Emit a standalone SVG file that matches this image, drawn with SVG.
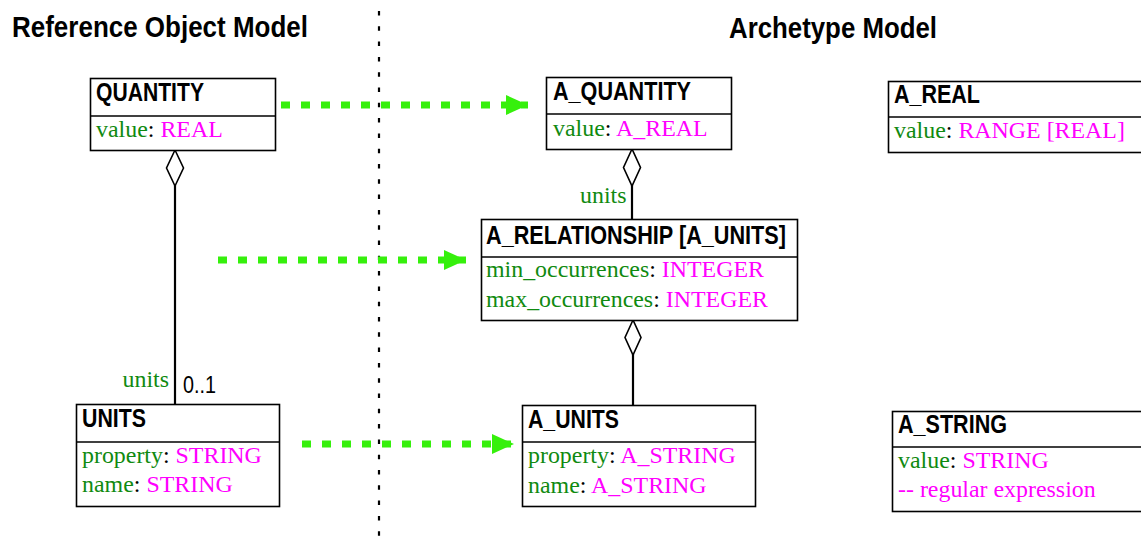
<svg xmlns="http://www.w3.org/2000/svg" width="1141" height="546" viewBox="0 0 1141 546">
  <style>
    .title { font-family: "Liberation Sans Narrow", "Liberation Sans", Arial, sans-serif; font-weight: bold; font-size: 29px; fill: #000; }
    .hdr { font-family: "Liberation Sans Narrow", "Liberation Sans", Arial, sans-serif; font-weight: bold; font-size: 25px; fill: #000; }
    .mult { font-family: "Liberation Sans Narrow", "Liberation Sans", Arial, sans-serif; font-size: 24px; fill: #000; }
    .attr { font-family: "Liberation Serif", "Times New Roman", serif; font-size: 23.9px; fill: #000; }
    .nm { fill: #108a10; }
    .ty { fill: #ff00ff; }
    .box { fill: #fff; stroke: #000; stroke-width: 1.6; }
    .sep { stroke: #000; stroke-width: 1.6; }
    .assoc { stroke: #000; stroke-width: 2.2; fill: none; }
    .diamond { fill: #fff; stroke: #000; stroke-width: 1.6; }
    .map { stroke: #36f00c; stroke-width: 7; stroke-dasharray: 9 11; fill: none; }
  </style>
  <defs>
    <marker id="head" viewBox="0 0 22 20" refX="22" refY="10" markerWidth="22" markerHeight="20" markerUnits="userSpaceOnUse" orient="auto">
      <path d="M0,0 L22,10 L0,20 Z" fill="#36f00c"/>
    </marker>
  </defs>

  <rect width="1141" height="546" fill="#fff"/>

  <!-- section titles -->
  <text class="title" x="12" y="37" textLength="296" lengthAdjust="spacingAndGlyphs">Reference Object Model</text>
  <text class="title" x="729" y="38" textLength="208" lengthAdjust="spacingAndGlyphs">Archetype Model</text>

  <!-- divider between the two models -->
  <line x1="379" y1="11" x2="379" y2="540" stroke="#000" stroke-width="2.2" stroke-dasharray="4.5 10.8"/>

  <!-- associations and mappings -->
  <g id="connectors">
    <line class="assoc" x1="175" y1="185" x2="175" y2="404"/>
    <polygon class="diamond" points="175,150 166.5,168 175,186 183.5,168"/>
    <text class="attr nm" x="169" y="387" text-anchor="end">units</text>
    <text class="mult" x="183" y="393" textLength="33" lengthAdjust="spacingAndGlyphs">0..1</text>

    <line class="assoc" x1="632" y1="185" x2="632" y2="219"/>
    <polygon class="diamond" points="632,149 623.5,167.5 632,186 640.5,167.5"/>
    <text class="attr nm" x="580" y="203">units</text>

    <line class="assoc" x1="633" y1="354" x2="633" y2="405"/>
    <polygon class="diamond" points="633,320 625,337.5 633,355 641,337.5"/>

    <line class="map" x1="281" y1="105" x2="528" y2="105" marker-end="url(#head)"/>
    <line class="map" x1="218" y1="260" x2="466" y2="260" marker-end="url(#head)"/>
    <line class="map" x1="302" y1="444" x2="514" y2="444" marker-end="url(#head)"/>
  </g>

  <g id="quantity">
    <rect class="box" x="90.5" y="78.5" width="185" height="72"/>
    <line class="sep" x1="90.5" y1="116" x2="275.5" y2="116"/>
    <text class="hdr" x="96" y="100.5" textLength="108" lengthAdjust="spacingAndGlyphs">QUANTITY</text>
    <text class="attr" x="96" y="137"><tspan class="nm">value</tspan>: <tspan class="ty">REAL</tspan></text>
  </g>

  <g id="units">
    <rect class="box" x="76.5" y="404.5" width="203" height="102"/>
    <line class="sep" x1="76.5" y1="442" x2="279.5" y2="442"/>
    <text class="hdr" x="82" y="427" textLength="64" lengthAdjust="spacingAndGlyphs">UNITS</text>
    <text class="attr" x="82" y="463"><tspan class="nm">property</tspan>: <tspan class="ty">STRING</tspan></text>
    <text class="attr" x="82" y="492"><tspan class="nm">name</tspan>: <tspan class="ty">STRING</tspan></text>
  </g>

  <g id="a_quantity">
    <rect class="box" x="546.5" y="77.5" width="185" height="72"/>
    <line class="sep" x1="546.5" y1="114" x2="731.5" y2="114"/>
    <text class="hdr" x="553" y="99.5" textLength="138" lengthAdjust="spacingAndGlyphs">A_QUANTITY</text>
    <text class="attr" x="553" y="136"><tspan class="nm">value</tspan>: <tspan class="ty">A_REAL</tspan></text>
  </g>

  <g id="a_relationship">
    <rect class="box" x="481.5" y="219.5" width="316" height="101"/>
    <line class="sep" x1="481.5" y1="257" x2="797.5" y2="257"/>
    <text class="hdr" x="486" y="244" textLength="300" lengthAdjust="spacingAndGlyphs">A_RELATIONSHIP [A_UNITS]</text>
    <text class="attr" x="486" y="277"><tspan class="nm">min_occurrences</tspan>: <tspan class="ty">INTEGER</tspan></text>
    <text class="attr" x="486" y="307"><tspan class="nm">max_occurrences</tspan>: <tspan class="ty">INTEGER</tspan></text>
  </g>

  <g id="a_units">
    <rect class="box" x="522.5" y="405.5" width="233" height="101"/>
    <line class="sep" x1="522.5" y1="442" x2="755.5" y2="442"/>
    <text class="hdr" x="528" y="428" textLength="91" lengthAdjust="spacingAndGlyphs">A_UNITS</text>
    <text class="attr" x="528" y="463"><tspan class="nm">property</tspan>: <tspan class="ty">A_STRING</tspan></text>
    <text class="attr" x="528" y="493"><tspan class="nm">name</tspan>: <tspan class="ty">A_STRING</tspan></text>
  </g>

  <g id="a_real">
    <rect class="box" x="888.5" y="81.5" width="260" height="71"/>
    <line class="sep" x1="888.5" y1="117" x2="1148" y2="117"/>
    <text class="hdr" x="894" y="103" textLength="86" lengthAdjust="spacingAndGlyphs">A_REAL</text>
    <text class="attr" x="894" y="138"><tspan class="nm">value</tspan>: <tspan class="ty">RANGE [REAL]</tspan></text>
  </g>

  <g id="a_string">
    <rect class="box" x="892.5" y="411.5" width="260" height="100"/>
    <line class="sep" x1="892.5" y1="447" x2="1152" y2="447"/>
    <text class="hdr" x="898" y="433" textLength="109" lengthAdjust="spacingAndGlyphs">A_STRING</text>
    <text class="attr" x="898" y="468"><tspan class="nm">value</tspan>: <tspan class="ty">STRING</tspan></text>
    <text class="attr ty" x="898" y="497">-- regular expression</text>
  </g>
</svg>
